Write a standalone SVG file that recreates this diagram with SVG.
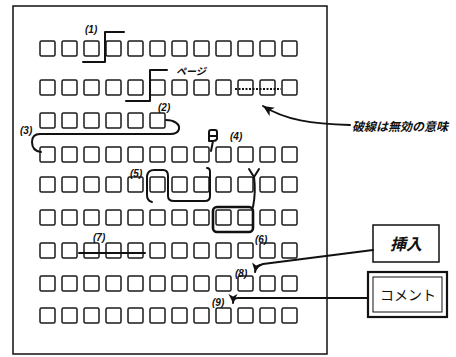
<svg xmlns="http://www.w3.org/2000/svg" xmlns:xlink="http://www.w3.org/1999/xlink" width="456" height="357" viewBox="0 0 456 357">
<style>
.box{fill:none;stroke:#1a1a1a;stroke-width:1.5}
.ln{fill:none;stroke:#111;stroke-width:2;stroke-linecap:round;stroke-linejoin:round}
.lbl{font-family:"Liberation Sans","Noto Sans CJK JP",sans-serif;font-style:italic;font-weight:bold;font-size:10px;fill:#111}
.jp{font-family:"Noto Sans CJK JP","Liberation Sans",sans-serif;fill:#111}
</style>
<defs>
<rect id="b" width="15" height="15" rx="1.5" class="box"/>
<marker id="ah" markerUnits="userSpaceOnUse" markerWidth="12" markerHeight="12" refX="9" refY="4.5" orient="auto">
<path d="M0,0 L9,4.5 L0,9 L2.5,4.5 Z" fill="#111"/>
</marker>
<marker id="ahb" markerUnits="userSpaceOnUse" markerWidth="14" markerHeight="12" refX="11" refY="5" orient="auto">
<path d="M0,0 L11,5 L0,10 L3,5 Z" fill="#111"/>
</marker>
</defs>
<rect x="13" y="6" width="314" height="348" fill="none" stroke="#111" stroke-width="1.5"/>
<g id="row1"><use href="#b" x="40" y="41"/><use href="#b" x="62" y="41"/><use href="#b" x="84" y="41"/><use href="#b" x="106" y="41"/><use href="#b" x="128" y="41"/><use href="#b" x="150" y="41"/><use href="#b" x="172" y="41"/><use href="#b" x="194" y="41"/><use href="#b" x="216" y="41"/><use href="#b" x="238" y="41"/><use href="#b" x="260" y="41"/><use href="#b" x="282" y="41"/></g>
<g id="row2"><use href="#b" x="40" y="80"/><use href="#b" x="62" y="80"/><use href="#b" x="84" y="80"/><use href="#b" x="106" y="80"/><use href="#b" x="128" y="80"/><use href="#b" x="150" y="80"/><use href="#b" x="172" y="80"/><use href="#b" x="194" y="80"/><use href="#b" x="216" y="80"/><use href="#b" x="238" y="80"/><use href="#b" x="260" y="80"/><use href="#b" x="282" y="80"/></g>
<g id="row3"><use href="#b" x="40" y="113"/><use href="#b" x="62" y="113"/><use href="#b" x="84" y="113"/><use href="#b" x="106" y="113"/><use href="#b" x="128" y="113"/><use href="#b" x="150" y="113"/></g>
<g id="row4"><use href="#b" x="40" y="147"/><use href="#b" x="62" y="147"/><use href="#b" x="84" y="147"/><use href="#b" x="106" y="147"/><use href="#b" x="128" y="147"/><use href="#b" x="150" y="147"/><use href="#b" x="172" y="147"/><use href="#b" x="194" y="147"/><use href="#b" x="216" y="147"/><use href="#b" x="238" y="147"/><use href="#b" x="260" y="147"/><use href="#b" x="282" y="147"/></g>
<g id="row5"><use href="#b" x="40" y="177"/><use href="#b" x="62" y="177"/><use href="#b" x="84" y="177"/><use href="#b" x="106" y="177"/><use href="#b" x="128" y="177"/><use href="#b" x="150" y="177"/><use href="#b" x="172" y="177"/><use href="#b" x="194" y="177"/><use href="#b" x="216" y="177"/><use href="#b" x="238" y="177"/><use href="#b" x="260" y="177"/><use href="#b" x="282" y="177"/></g>
<g id="row6"><use href="#b" x="40" y="210"/><use href="#b" x="62" y="210"/><use href="#b" x="84" y="210"/><use href="#b" x="106" y="210"/><use href="#b" x="128" y="210"/><use href="#b" x="150" y="210"/><use href="#b" x="172" y="210"/><use href="#b" x="194" y="210"/><use href="#b" x="216" y="210"/><use href="#b" x="238" y="210"/><use href="#b" x="260" y="210"/><use href="#b" x="282" y="210"/></g>
<g id="row7"><use href="#b" x="40" y="243"/><use href="#b" x="62" y="243"/><use href="#b" x="84" y="243"/><use href="#b" x="106" y="243"/><use href="#b" x="128" y="243"/><use href="#b" x="150" y="243"/><use href="#b" x="172" y="243"/><use href="#b" x="194" y="243"/><use href="#b" x="216" y="243"/><use href="#b" x="238" y="243"/><use href="#b" x="260" y="243"/><use href="#b" x="282" y="243"/></g>
<g id="row8"><use href="#b" x="40" y="276"/><use href="#b" x="62" y="276"/><use href="#b" x="84" y="276"/><use href="#b" x="106" y="276"/><use href="#b" x="128" y="276"/><use href="#b" x="150" y="276"/><use href="#b" x="172" y="276"/><use href="#b" x="194" y="276"/><use href="#b" x="216" y="276"/><use href="#b" x="238" y="276"/><use href="#b" x="260" y="276"/><use href="#b" x="282" y="276"/></g>
<g id="row9"><use href="#b" x="40" y="308"/><use href="#b" x="62" y="308"/><use href="#b" x="84" y="308"/><use href="#b" x="106" y="308"/><use href="#b" x="128" y="308"/><use href="#b" x="150" y="308"/><use href="#b" x="172" y="308"/><use href="#b" x="194" y="308"/><use href="#b" x="216" y="308"/><use href="#b" x="238" y="308"/><use href="#b" x="260" y="308"/><use href="#b" x="282" y="308"/></g>
<g id="marks">
<path class="ln" d="M83,62 H105 V32 H124"/>
<text class="lbl" x="85" y="33">(1)</text>
<path class="ln" d="M126,101 H150 V70 H167"/>
<text class="lbl" x="176" y="75" font-size="8">ページ</text>
<text class="lbl" x="158" y="111">(2)</text>
<path class="ln" d="M166,120 C174,120 180,124 179,129 Q178,134 170,134 L40,134 Q32,134 32,142 Q32,151 41,152"/>
<text class="lbl" x="20" y="134">(3)</text>
<path class="ln" stroke-width="1.8" d="M209,141 V132 Q209,130 211,130 H215 Q217,130 217,132 V139 Q216,141 213,141 Z M209,136 H217 M213,141 L211,151"/>
<text class="lbl" x="230" y="140">(4)</text>
<text class="lbl" x="130" y="177">(5)</text>
<path class="ln" d="M152,202 Q147,201 147,195 L147,176 Q148,170 154,170 L163,170 Q168,170 168,176 L168,196 Q168,201 174,201 L205,201 Q210,201 210,196 L210,172 Q210,168 207,168"/>
<path class="ln" d="M249,169 L254,177 L259,169 M254,177 Q256,192 253,207"/>
<rect x="213" y="207" width="40" height="25" rx="4" fill="none" stroke="#111" stroke-width="2.6"/>
<text class="lbl" x="255" y="243">(6)</text>
<text class="lbl" x="93" y="241">(7)</text>
<path class="ln" stroke-width="1.6" d="M79,253 H145"/>
<text class="lbl" x="235" y="277">(8)</text>
<text class="lbl" x="212" y="306">(9)</text>
<path d="M235,89 H281" fill="none" stroke="#111" stroke-width="1.8" stroke-dasharray="2 1.5"/>
</g>
<g id="connectors">
<path class="ln" stroke-width="1.6" d="M373,250 L263,264 Q256,266 255,272" marker-end="url(#ah)"/>
<path class="ln" stroke-width="1.6" d="M368,298 L238,298 Q233,298 233,303" marker-end="url(#ah)"/>
<path class="ln" stroke-width="2.6" d="M350,125 C312,124 285,120 263,106" marker-end="url(#ahb)"/>
</g>
<g id="note"><text class="jp" x="352" y="131" font-size="12" font-weight="bold" font-style="italic">破線は無効の意味</text></g>
<g id="insert"><rect x="373" y="225" width="66" height="37" fill="none" stroke="#111" stroke-width="1.5"/><text class="jp" x="406" y="250" font-size="16" font-weight="bold" font-style="italic" text-anchor="middle">挿入</text></g>
<g id="comment"><rect x="368" y="272" width="79" height="45" fill="none" stroke="#111" stroke-width="2.2"/><rect x="373" y="277" width="69" height="35" fill="none" stroke="#111" stroke-width="1"/><text class="jp" x="408" y="300" font-size="14" text-anchor="middle">コメント</text></g>
</svg>
